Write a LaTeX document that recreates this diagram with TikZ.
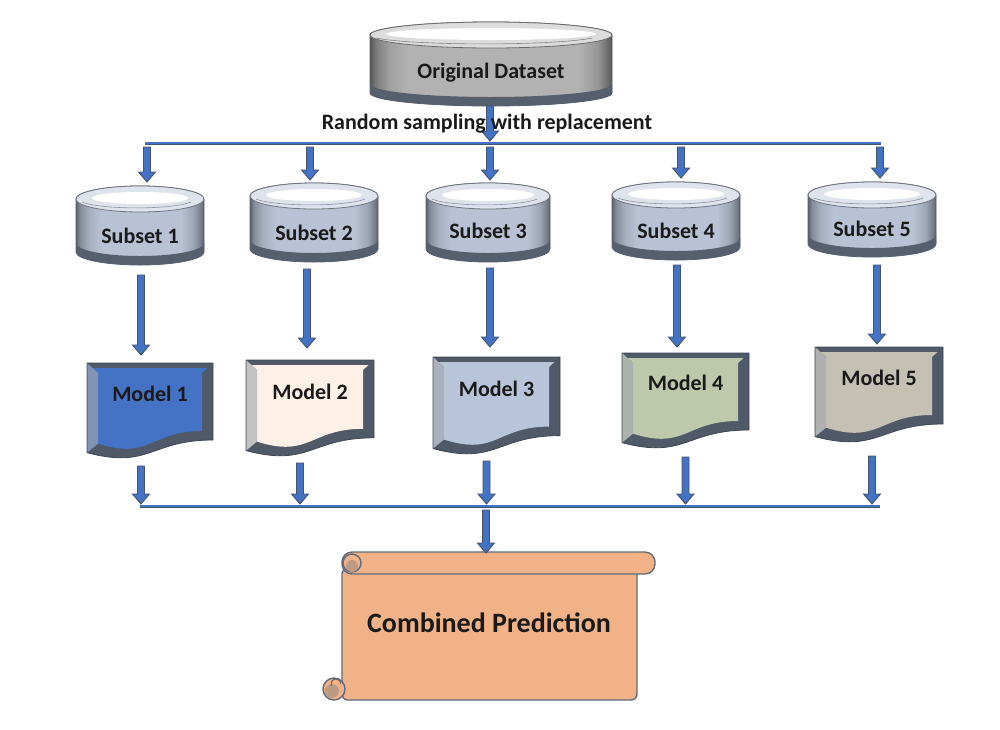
\documentclass[tikz,border=0pt]{standalone}
\usepackage{fontspec}
\setmainfont{Carlito}
\usetikzlibrary{calc}
\definecolor{arrowblue}{HTML}{4472C4}
\definecolor{arrowedge}{HTML}{44546A}
\definecolor{txt}{HTML}{1A1A1A}
\definecolor{cylblue}{HTML}{B8C2D4}
\definecolor{cylgray}{HTML}{B2B2B2}
\definecolor{rimdark}{HTML}{555F6E}
\definecolor{beveldark}{HTML}{4F5968}
\definecolor{bevelgray}{HTML}{A3A7AD}
\definecolor{mone}{HTML}{4472C4}
\definecolor{mtwo}{HTML}{FDF0E7}
\definecolor{mthree}{HTML}{B8C4D9}
\definecolor{mfour}{HTML}{BDC9AA}
\definecolor{mfive}{HTML}{C4C0B4}
\definecolor{scrollfill}{HTML}{F2B287}
\definecolor{scrolledge}{HTML}{5E6A7A}
\definecolor{scrolldark}{HTML}{BE9A82}
\pgfdeclarehorizontalshading{cylblueshade}{100bp}{color(0bp)=(cylblue!50!black); color(25bp)=(cylblue!50!black); color(26.5bp)=(cylblue!72!black); color(30bp)=(cylblue!90!black); color(35bp)=(cylblue); color(66bp)=(cylblue); color(71bp)=(cylblue!85!black); color(74bp)=(cylblue!62!black); color(75bp)=(cylblue!50!black); color(100bp)=(cylblue!50!black)}
\pgfdeclarehorizontalshading{cylgrayshade}{100bp}{color(0bp)=(cylgray!50!black); color(25bp)=(cylgray!50!black); color(26.5bp)=(cylgray!72!black); color(29bp)=(cylgray!90!black); color(33bp)=(cylgray); color(68bp)=(cylgray); color(72bp)=(cylgray!85!black); color(74bp)=(cylgray!62!black); color(75bp)=(cylgray!50!black); color(100bp)=(cylgray!50!black)}
\tikzset{
 lbl/.style={font=\bfseries\fontsize{22}{25}\selectfont, text=txt, inner sep=0pt},
 biglbl/.style={font=\bfseries\fontsize{28}{32}\selectfont, text=txt, inner sep=0pt},
 box/.style={inner sep=0pt, outer sep=0pt},
 blockarr/.style={draw=arrowedge, fill=arrowblue, line width=0.9pt, line join=miter,
   to path={let \p1=(\tikztostart), \p2=(\tikztotarget) in
     (\x1-3.5pt,\y1) -- (\x1-3.5pt,\y2+10pt) -- (\x1-8.5pt,\y2+10pt) -- (\x1,\y2)
     -- (\x1+8.5pt,\y2+10pt) -- (\x1+3.5pt,\y2+10pt) -- (\x1+3.5pt,\y1) -- cycle}},
 busline/.style={draw=arrowedge, line width=0.6pt, double=arrowblue, double distance=1.8pt},
 scrollst/.style={fill=scrollfill, draw=scrolledge, line width=1.4pt},
 docedge/.style={draw=beveldark!80!black, line width=0.8pt, line join=round},
}
% cylinder: name, cx, top, bottom, half width, colour, text, text y
\newcommand\dbcyl[8]{%
 \pgfmathsetmacro\cylL{#2-#5}\pgfmathsetmacro\cylR{#2+#5}%
 \pgfmathsetmacro\cylT{#3+13}\pgfmathsetmacro\cylB{#4-13}\pgfmathsetmacro\cylBb{#4-13-9}%
 \shadedraw[shading=#6shade, draw=rimdark, line width=0.8pt]
   (\cylL,\cylT) -- (\cylL,\cylB) arc[start angle=180,end angle=0,x radius=#5,y radius=13]
   -- (\cylR,\cylT) arc[start angle=0,end angle=-180,x radius=#5,y radius=13] -- cycle;
 \fill[rimdark] (\cylL,\cylB) arc[start angle=180,end angle=0,x radius=#5,y radius=13]
   -- (\cylR,\cylBb) arc[start angle=0,end angle=180,x radius=#5,y radius=13] -- cycle;
 \fill[#6!45!white] (#2,\cylT) ellipse[x radius=#5,y radius=13];
 \fill[white] (#2,\cylT-1) ellipse[x radius=#5-16,y radius=6];
 \draw[#6!60!black, line width=0.8pt] (#2,\cylT) ellipse[x radius=#5,y radius=13];
 \draw[#6!75!black, line width=0.6pt] (\cylL+6,\cylT+3) arc[start angle=160,end angle=20,x radius=#5-6,y radius=9];
 \node[box, minimum width={2*#5}, minimum height={#4-#3}] (#1) at (#2,{(#3+#4)/2}) {};
 \node[lbl] (#1t) at (#2,#8) {#7};
}
% document: name, x0, y0, x1, y1, colour, text, text y
\newcommand\docshape[8]{%
 \pgfmathsetmacro\docW{#4-#2}\pgfmathsetmacro\docH{#5-#3}%
 \pgfmathsetmacro\docM{#2+0.5*\docW}%
 \pgfmathsetmacro\docR{#3+0.802*\docH}\pgfmathsetmacro\docL{#3+0.934*\docH}\pgfmathsetmacro\docC{#3+1.1075*\docH}%
 \fill[beveldark] (#2,#3) -- (#4,#3) -- (#4,\docR) .. controls (\docM,\docR) and (\docM,\docC) .. (#2,\docL) -- cycle;
 \fill[#6] (#2+11,#3+10) -- (#2+5.5,#3+5) -- (#4-5.5,#3+5) -- (#4-11,#3+10) -- (#4-11,\docR-9)
   .. controls (\docM,\docR-9) and (\docM,\docC-9) .. (#2+11,\docL-9) -- cycle;
 \fill[#6!35!bevelgray] (#2,#3) -- (#2+11,#3+10) -- (#2+11,\docL-9) -- (#2,\docL) -- cycle;
 \path[docedge] (#2,#3) -- (#4,#3) -- (#4,\docR) .. controls (\docM,\docR) and (\docM,\docC) .. (#2,\docL) -- cycle;
 \node[box, minimum width=\docW, minimum height=\docH] (#1) at ({(#2+#4)/2},{(#3+#5)/2}) {};
 \node[lbl] (#1t) at ({(#2+#4)/2},#8) {#7};
}
\begin{document}
\begin{tikzpicture}[x=1pt,y=-1pt]
\useasboundingbox (0,0) rectangle (1000,729);
\fill[white] (0,0) rectangle (1000,729);

% cylinders
\dbcyl{od}{491}{22}{106}{121}{cylgray}{Original Dataset}{73}
\dbcyl{s1}{140}{186}{265}{64}{cylblue}{Subset 1}{236}
\dbcyl{s2}{314}{183}{262}{64}{cylblue}{Subset 2}{233}
\dbcyl{s3}{488}{183}{262}{62}{cylblue}{Subset 3}{231}
\dbcyl{s4}{676}{182}{260}{64}{cylblue}{Subset 4}{231}
\dbcyl{s5}{872}{182}{257}{64}{cylblue}{Subset 5}{229}

% models
\docshape{m1}{87}{363}{213}{459}{mone}{Model 1}{394}
\docshape{m2}{246}{360}{374}{457}{mtwo}{Model 2}{392}
\docshape{m3}{433}{357}{560}{455}{mthree}{Model 3}{389}
\docshape{m4}{622}{353}{749}{449}{mfour}{Model 4}{383}
\docshape{m5}{815}{347}{943}{443}{mfive}{Model 5}{378}

% scroll
\filldraw[scrollst, rounded corners=6pt] (342,568) -- (342,700) -- (637,700) -- (637,568) -- cycle;
\filldraw[scrollst] (334,689) circle (11);
\fill[scrolldark] (332,691) circle (7);
\draw[scrolledge, line width=1pt] (341,684) arc[start angle=0,end angle=-200,radius=5];
\filldraw[scrollst, rounded corners=10pt] (342,552) -- (655,552) -- (655,574) -- (342,574) -- cycle;
\filldraw[scrollst] (352,563) circle (9);
\fill[scrolldark] (352,566) circle (6);
\node[box, minimum width=332, minimum height=148] (cp) at (489,626) {};
\node[biglbl] (cpt) at (489,623) {Combined Prediction};

% buses
\coordinate (tbl) at (145,143);
\coordinate (tbr) at (881,143);
\draw[busline] (tbl) -- (tbr);
\coordinate (bbl) at (140,506);
\coordinate (bbr) at (880,506);
\draw[busline] (bbl) -- (bbr);

% arrow from original dataset
\coordinate (odj) at (490,141);
\draw[blockarr] ($(od.south)+(-1,0)$) to (odj);
\node[lbl] (rs) at (487,124) {Random sampling with replacement};

% arrows from top bus to subsets
\coordinate (ta1) at (147,147);
\coordinate (ta2) at (310,147);
\coordinate (ta3) at (490,147);
\coordinate (ta4) at (681,147);
\coordinate (ta5) at (880,147);
\draw[blockarr] (ta1) to ($(ta1 |- s1.north)+(0,-4)$);
\draw[blockarr] (ta2) to ($(ta2 |- s2.north)+(0,-3)$);
\draw[blockarr] (ta3) to ($(ta3 |- s3.north)+(0,-3)$);
\draw[blockarr] (ta4) to ($(ta4 |- s4.north)+(0,-4)$);
\draw[blockarr] (ta5) to ($(ta5 |- s5.north)+(0,-4)$);

% subsets to models
\draw[blockarr] ($(s1.south)+(1,10)$) to ($(m1.north)+(0,-8)$);
\draw[blockarr] ($(s2.south)+(-7,7)$) to ($(m2.north)+(0,-12)$);
\draw[blockarr] ($(s3.south)+(2,6)$) to ($(m3.north)+(0,-10)$);
\draw[blockarr] ($(s4.south)+(1,5)$) to ($(m4.north)+(0,-6)$);
\draw[blockarr] ($(s5.south)+(5,8)$) to ($(m5.north)+(0,-3)$);

% models to bottom bus
\draw[blockarr] ($(m1.south)+(-9,7)$) to ($(m1.south |- bbl)+(0,-2)$);
\draw[blockarr] ($(m2.south)+(-10,6)$) to ($(m2.south |- bbl)+(0,-2)$);
\draw[blockarr] ($(m3.south)+(-10,6)$) to ($(m3.south |- bbl)+(0,-2)$);
\draw[blockarr] ($(m4.south)+(0,8)$) to ($(m4.south |- bbl)+(0,-2)$);
\draw[blockarr] ($(m5.south)+(-7,13)$) to ($(m5.south |- bbl)+(0,-2)$);

% bottom bus to combined prediction
\draw[blockarr] ($(bbl -| cp.north)+(-3,4)$) to ($(cp.north)+(0,1)$);
\end{tikzpicture}
\end{document}
